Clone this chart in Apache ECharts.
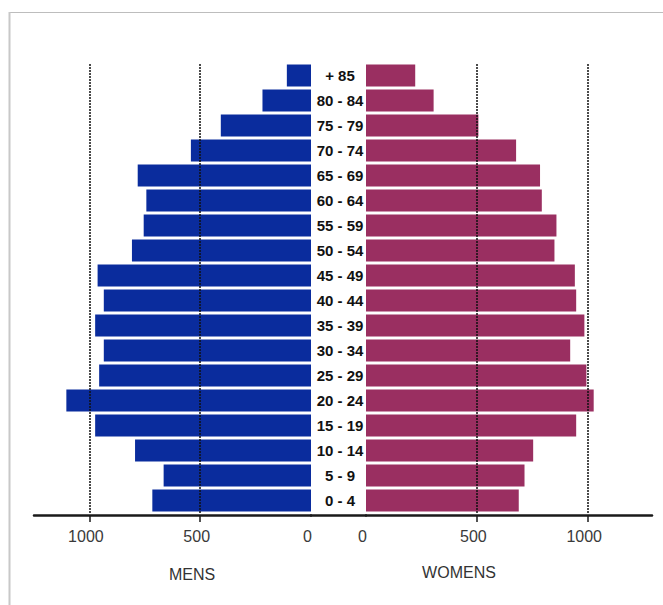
<!DOCTYPE html>
<html>
<head>
<meta charset="utf-8">
<script src="https://cdn.jsdelivr.net/npm/echarts@6/dist/echarts.min.js"></script>
<style>
html,body{margin:0;padding:0;background:#fff;}
#main{width:663px;height:605px;}
</style>
</head>
<body>
<div id="main"></div>
<script>
// Age groups, bottom to top
const ageGroups = ['0 - 4','5 - 9','10 - 14','15 - 19','20 - 24','25 - 29','30 - 34','35 - 39','40 - 44','45 - 49','50 - 54','55 - 59','60 - 64','65 - 69','70 - 74','75 - 79','80 - 84','+ 85'];
const mens   = [716, 665, 794, 974, 1104, 956, 935, 974, 935, 963, 808, 755, 743, 782, 542, 407, 219, 109];
const womens = [689, 715, 754, 948, 1027, 994, 921, 985, 948, 942, 850, 859, 793, 785, 677, 507, 305, 222];
const tickValues = [500, 1000];
const labelValues = [0, 500, 1000];
const refLines = [500, 1000];

const chart = echarts.init(document.getElementById('main'), null, {renderer: 'svg'});

const axisLineStyle = {show: true, lineStyle: {color: '#1a1a1a', width: 2.5}};
const labelStyle = {color: '#3a3a3a', fontSize: 16, fontFamily: 'Liberation Sans, Arial, sans-serif', margin: 13, padding: [0, 7, 0, 0], formatter: v => String(v)};
const markLine = {
  silent: true,
  symbol: ['none', 'none'],
  label: {show: false},
  lineStyle: {color: '#111', type: [2, 1], width: 1.5},
  data: refLines.map(v => ({xAxis: v}))
};

chart.setOption({
  animation: false,
  backgroundColor: '#fff',
  grid: [
    {left: 34, top: 63, width: 277, height: 450},
    {left: 366, top: 63, width: 286, height: 450},
    {left: 311, top: 63, width: 55, height: 450}
  ],
  xAxis: [
    {type: 'value', gridIndex: 0, min: 0, max: 1250, inverse: true, offset: 2,
     axisLine: axisLineStyle,
     axisTick: {show: true, customValues: tickValues, length: 7, lineStyle: {color: '#1a1a1a', width: 1.5}},
     axisLabel: Object.assign({customValues: labelValues}, labelStyle),
     splitLine: {show: false}},
    {type: 'value', gridIndex: 1, min: 0, max: 1290, offset: 2,
     axisLine: axisLineStyle,
     axisTick: {show: true, customValues: tickValues, length: 7, lineStyle: {color: '#1a1a1a', width: 1.5}},
     axisLabel: Object.assign({customValues: labelValues}, labelStyle),
     splitLine: {show: false}},
    {type: 'value', gridIndex: 2, min: 0, max: 1, offset: 2,
     axisLine: axisLineStyle, axisTick: {show: false}, axisLabel: {show: false}, splitLine: {show: false}}
  ],
  yAxis: [
    {type: 'category', gridIndex: 0, data: ageGroups, show: false},
    {type: 'category', gridIndex: 1, data: ageGroups,
     axisLine: {show: false}, axisTick: {show: false},
     axisLabel: {align: 'center', margin: 26, color: '#111', fontSize: 15, fontWeight: 'bold', fontFamily: 'Liberation Sans, Arial, sans-serif'}},
    {type: 'category', gridIndex: 2, data: ageGroups, show: false}
  ],
  series: [
    {name: 'MENS', type: 'bar', xAxisIndex: 0, yAxisIndex: 0, data: mens,
     barCategoryGap: '12%', itemStyle: {color: '#0a2c9d'}, markLine: markLine},
    {name: 'WOMENS', type: 'bar', xAxisIndex: 1, yAxisIndex: 1, data: womens,
     barCategoryGap: '12%', itemStyle: {color: '#9a2f61'}, markLine: markLine}
  ],
  graphic: [
    {type: 'line', silent: true, shape: {x1: 10, y1: 12.5, x2: 663, y2: 12.5}, style: {stroke: '#bdbdbd', lineWidth: 1}},
    {type: 'line', silent: true, shape: {x1: 9.5, y1: 12, x2: 9.5, y2: 605}, style: {stroke: '#c8c8c8', lineWidth: 2}},
    {type: 'text', x: 192, y: 574, style: {text: 'MENS', textAlign: 'center', textVerticalAlign: 'middle', fill: '#333', font: '16px "Liberation Sans", Arial, sans-serif'}},
    {type: 'text', x: 459, y: 572, style: {text: 'WOMENS', textAlign: 'center', textVerticalAlign: 'middle', fill: '#333', font: '16px "Liberation Sans", Arial, sans-serif'}}
  ]
});
</script>
</body>
</html>
